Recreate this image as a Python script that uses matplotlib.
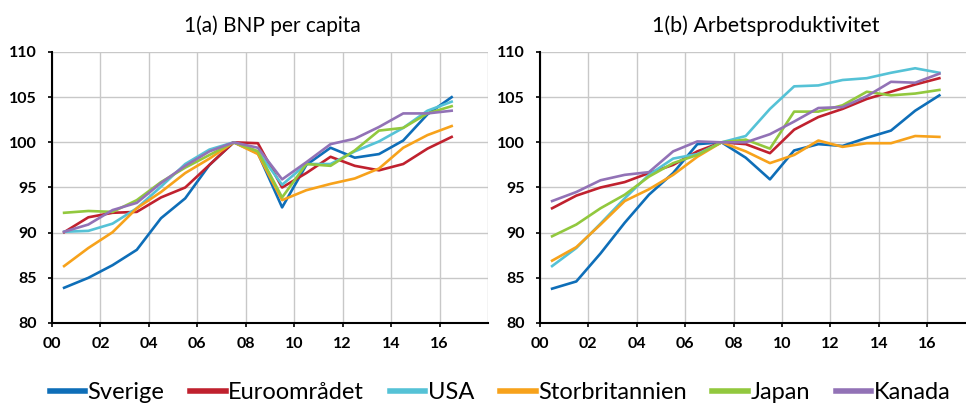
import numpy as np
import matplotlib.pyplot as plt

# years, plotted mid-year
years = np.arange(2000, 2017) + 0.5
xtick_labels = ['00', '02', '04', '06', '08', '10', '12', '14', '16']

names = ['Sverige', 'Euroområdet', 'USA', 'Storbritannien', 'Japan', 'Kanada']
colors = ['#0E6EB8', '#C0212E', '#55C2D6', '#F7A21B', '#92C83E', '#9272B6']

# 1(a) BNP per capita, index 2007 = 100
bnp_sverige = [83.9, 85.0, 86.4, 88.1, 91.6, 93.8, 97.5, 100, 98.8, 92.8, 97.5, 99.4, 98.3, 98.7, 100.2, 103.1, 105.0]
bnp_euro = [90.05, 91.7, 92.2, 92.3, 93.9, 95.0, 97.5, 100, 99.9, 95.0, 96.6, 98.4, 97.4, 96.9, 97.6, 99.3, 100.6]
bnp_usa = [90.1, 90.2, 91.0, 92.7, 95.1, 97.6, 99.2, 100, 99.0, 95.3, 97.6, 97.6, 99.0, 100.1, 101.6, 103.5, 104.5]
bnp_uk = [86.3, 88.3, 90.05, 92.7, 94.5, 96.6, 98.2, 100, 98.7, 93.6, 94.7, 95.4, 96.0, 97.1, 99.4, 100.8, 101.8]
bnp_japan = [92.2, 92.4, 92.3, 93.6, 95.6, 97.2, 98.6, 100, 99.0, 93.9, 97.6, 97.4, 99.1, 101.3, 101.6, 103.2, 104.0]
bnp_kanada = [90.1, 90.9, 92.5, 93.3, 95.5, 97.4, 99.0, 100, 99.4, 95.9, 97.8, 99.8, 100.4, 101.7, 103.2, 103.2, 103.5]

# 1(b) Arbetsproduktivitet, index 2007 = 100
ap_sverige = [83.8, 84.6, 87.7, 91.1, 94.2, 96.6, 99.8, 100, 98.3, 95.9, 99.1, 99.8, 99.6, 100.5, 101.3, 103.5, 105.2]
ap_euro = [92.7, 94.1, 95.0, 95.6, 96.6, 97.5, 99.0, 100, 99.8, 98.8, 101.4, 102.8, 103.7, 104.8, 105.6, 106.4, 107.1]
ap_usa = [86.3, 88.3, 91.0, 93.8, 96.4, 98.2, 98.7, 100, 100.7, 103.7, 106.2, 106.3, 106.9, 107.1, 107.7, 108.2, 107.7]
ap_uk = [86.9, 88.4, 90.9, 93.5, 94.8, 96.4, 98.4, 100, 99.0, 97.7, 98.6, 100.2, 99.5, 99.9, 99.9, 100.7, 100.6]
ap_japan = [89.6, 90.9, 92.7, 94.2, 96.2, 97.7, 98.6, 100, 100.3, 99.3, 103.4, 103.4, 104.1, 105.6, 105.2, 105.4, 105.8]
ap_kanada = [93.5, 94.5, 95.8, 96.4, 96.7, 99.0, 100.1, 100, 100, 100.9, 102.3, 103.8, 103.9, 105.1, 106.7, 106.6, 107.6]

bnp = [bnp_sverige, bnp_euro, bnp_usa, bnp_uk, bnp_japan, bnp_kanada]
ap = [ap_sverige, ap_euro, ap_usa, ap_uk, ap_japan, ap_kanada]

plt.rcParams['font.family'] = ['Lato', 'DejaVu Sans']

fig = plt.figure(figsize=(9.66, 4.05), dpi=100)
ax1 = fig.add_axes([52/966, 1-323/405, 436/966, 271/405])
ax2 = fig.add_axes([540/966, 1-323/405, 426/966, 271/405])

def style(ax, xmax):
    ax.set_xlim(2000, xmax)
    ax.set_ylim(80, 110)
    ax.set_xticks(np.arange(2000, 2017, 2))
    ax.set_xticklabels(xtick_labels)
    ax.set_yticks(np.arange(80, 111, 5))
    ax.grid(True, color='#C8C8C8', linewidth=1)
    ax.set_axisbelow(True)
    for s in ['top', 'right']:
        ax.spines[s].set_visible(False)
    for s in ['left', 'bottom']:
        ax.spines[s].set_linewidth(1.5)
    ax.tick_params(direction='out', length=3, width=1.2, labelsize=11.5)
    ax.tick_params(axis='y', pad=8)
    ax.tick_params(axis='x', pad=7)
    for lab in ax.get_xticklabels() + ax.get_yticklabels():
        lab.set_fontweight('bold')

for series, c in zip(bnp, colors):
    ax1.plot(years, series, color=c, linewidth=1.9)
for series, c, n in zip(ap, colors, names):
    ax2.plot(years, series, color=c, linewidth=1.9, label=n)

style(ax1, 2018)
style(ax2, 2017.6)
ax1.axvline(2018, color='#C8C8C8', linewidth=1)

fig.text(272/966, 1-26/405, '1(a) BNP per capita', ha='center', va='center', fontsize=15)
fig.text(766/966, 1-26/405, '1(b) Arbetsproduktivitet', ha='center', va='center', fontsize=15.5)

fig.legend(loc='center', bbox_to_anchor=(500/966, 0.03), ncol=6, frameon=False,
           fontsize=17, handlelength=1.5, handletextpad=0.1, columnspacing=1.1,
           borderaxespad=0)
for line in fig.legends[0].get_lines():
    line.set_linewidth(4)

fig.savefig('out.png', dpi=100)
